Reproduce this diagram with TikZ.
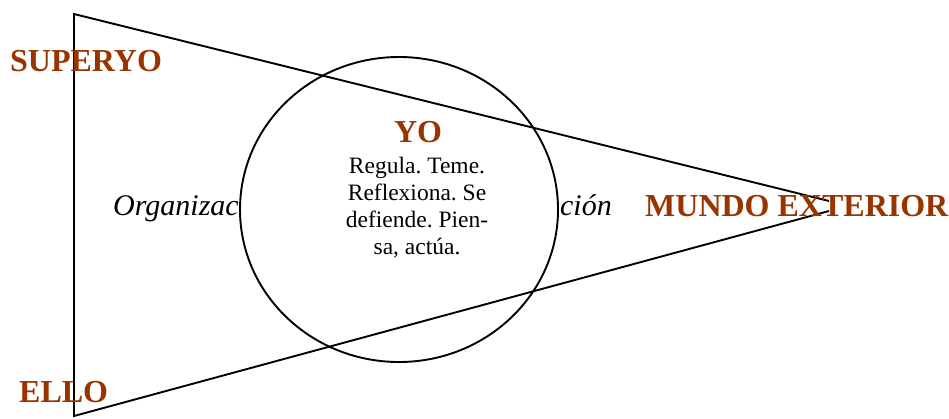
\documentclass[tikz,border=0pt]{standalone}
\usepackage{fontspec}
\setmainfont{Liberation Serif}
\definecolor{labelbrown}{RGB}{153,51,0}
\frenchspacing
\begin{document}
\frenchspacing
\begin{tikzpicture}[x=1pt,y=-1pt,
  biglabel/.style={font=\fontsize{32}{38}\selectfont\bfseries, text=labelbrown, inner sep=0pt, anchor=base west},
  itlabel/.style={font=\fontsize{30}{36}\selectfont\itshape, inner sep=0pt},
  bodytext/.style={font=\fontsize{23.5}{27}\selectfont\frenchspacing, align=center, inner sep=0pt},
  outline/.style={line width=1.9pt, line join=miter}]
\useasboundingbox (0,0) rectangle (949,418);
% italic text partly hidden by the circle
\node[itlabel, anchor=base west] (orgL) at (113,215) {Organizac};
\node[itlabel, anchor=base east] (orgR) at (612,215) {ción};
% circle (YO)
\draw[outline, fill=white] (399,209.5) ellipse [x radius=159, y radius=152.5];
% triangle
\coordinate (tl) at (74,14);
\coordinate (bl) at (74,416);
\coordinate (rt) at (829,201);
\coordinate (rb) at (829,211);
\draw[outline] (rt) -- (tl) -- (bl) -- (rb);
% labels
\node[biglabel] (superyo) at (10,71) {SUPERYO};
\node[biglabel] (ello) at (19,402) {ELLO};
\node[biglabel] (mundo) at (645,216) {MUNDO EXTERIOR};
\node[biglabel, anchor=base] (yo) at (418,142) {YO};
\node[bodytext, anchor=base] (yotext) at (417,254) {Regula. Teme.\\Reflexiona. Se\\defiende. Pien-\\sa, actúa.};
\end{tikzpicture}
\end{document}
